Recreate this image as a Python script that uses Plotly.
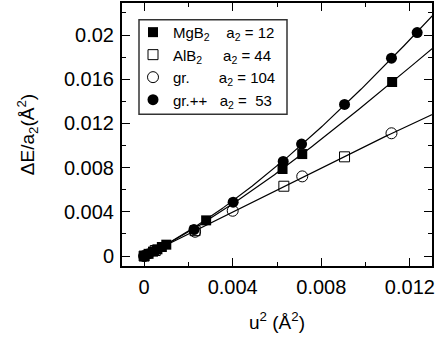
import numpy as np
import plotly.graph_objects as go

# values (u^2 in A^2, dE/a2 in A^2)
mgb2_u2 = [0.0, 0.0002, 0.0004, 0.0006, 0.0008, 0.001, 0.0028, 0.00625, 0.00714, 0.0112]
mgb2_de = [0.0, 0.0002, 0.0004, 0.00061, 0.00082, 0.00103, 0.00323, 0.00788, 0.00923, 0.01575]

alb2_u2 = [0.0, 0.0005, 0.0023, 0.00631, 0.00905]
alb2_de = [0.0, 0.0005, 0.0023, 0.00632, 0.00898]

gr_u2 = [0.0, 0.0023, 0.004, 0.00714, 0.01117]
gr_de = [0.0, 0.0022, 0.0041, 0.00721, 0.01111]

grpp_u2 = [0.0, 0.0002, 0.0005, 0.00225, 0.00402, 0.00628, 0.00711, 0.00905, 0.01117, 0.01233]
grpp_de = [0.0, 0.0002, 0.0005, 0.0024, 0.00488, 0.00856, 0.01013, 0.01372, 0.01791, 0.02022]

names = ["MgB<sub>2</sub>", "AlB<sub>2</sub>", "gr.", "gr.++"]
a2_labels = ["a<sub>2</sub> = 12", "a<sub>2</sub> = 44", "a<sub>2</sub> = 104", "a<sub>2</sub> =\u00a0\u00a053"]
pad = [4, 5, 7, 3]  # spaces between name and a2 text

xticks = [0, 0.004, 0.008, 0.012]
xticktext = ["0", "0.004", "0.008", "0.012"]
yticks = [0, 0.004, 0.008, 0.012, 0.016, 0.02]
yticktext = ["0", "0.004", "0.008", "0.012", "0.016", "0.02"]

FONT = "Liberation Sans, Arial, sans-serif"


def fit_curve(u2, de):
    # dE/a2 = u^2 + b u^4 + c u^6  -> fit b, c
    x = np.array(u2); y = np.array(de)
    A = np.c_[x**2, x**3]
    coef = np.linalg.lstsq(A, y - x, rcond=None)[0]
    xs = np.linspace(0, 0.0135, 200)
    return xs, xs + coef[0]*xs**2 + coef[1]*xs**3


series = [
    (mgb2_u2, mgb2_de, dict(symbol="square", size=10, color="black")),
    (alb2_u2, alb2_de, dict(symbol="square-open", size=10, color="black", line=dict(width=1))),
    (gr_u2, gr_de, dict(symbol="circle-open", size=11, color="black", line=dict(width=1))),
    (grpp_u2, grpp_de, dict(symbol="circle", size=11, color="black")),
]

fig = go.Figure()
# AlB2 and gr. share one fitted line in the original
fits = [(mgb2_u2, mgb2_de), (alb2_u2 + gr_u2, alb2_de + gr_de), (grpp_u2, grpp_de)]
for u2, de in fits:
    xs, ys = fit_curve(u2, de)
    fig.add_trace(go.Scatter(x=xs, y=ys, mode="lines", line=dict(color="black", width=1.2),
                             showlegend=False, hoverinfo="skip"))

for (u2, de, mk), nm, lab, p in zip(series, names, a2_labels, pad):
    fig.add_trace(go.Scatter(x=u2, y=de, mode="markers", marker=mk,
                             name=nm + "\u00a0" * p + lab))

axis_common = dict(showline=True, linewidth=2, linecolor="black", mirror="allticks",
                   ticks="inside", ticklen=8, tickwidth=1, tickcolor="black",
                   showgrid=False, zeroline=False,
                   tickfont=dict(family=FONT, size=20, color="black"),
                   minor=dict(ticks="inside", ticklen=4, tickwidth=1, tickcolor="black", dtick=0.002))

fig.update_xaxes(range=[-0.001, 0.013], tickvals=xticks, ticktext=xticktext,
                 ticklabelstandoff=2,
                 title=dict(text="u<sup>2</sup> (Å<sup>2</sup>)", standoff=19,
                            font=dict(family=FONT, size=19, color="black")),
                 **axis_common)
fig.update_yaxes(range=[-0.0009, 0.0229], tickvals=yticks, ticktext=yticktext,
                 ticklabelstandoff=2,
                 title=dict(text="ΔE/a<sub>2</sub>(Å<sup>2</sup>)", standoff=24,
                            font=dict(family=FONT, size=19, color="black")),
                 **axis_common)

# legend frame
fig.add_shape(type="rect", xref="paper", yref="paper",
              x0=(139 - 122) / 310, x1=(287 - 122) / 310,
              y0=(266 - 113) / 265, y1=(266 - 18) / 265,
              line=dict(color="#333", width=1.5), fillcolor="white", layer="below")

fig.update_layout(
    width=436, height=339,
    margin=dict(l=122, r=4, t=1, b=73),
    plot_bgcolor="white", paper_bgcolor="white",
    font=dict(family=FONT, color="black"),
    legend=dict(x=(133 - 122) / 310, y=(266 - 14) / 265, xanchor="left", yanchor="top",
                bgcolor="rgba(0,0,0,0)", borderwidth=0,
                font=dict(family=FONT, size=15, color="black")),
)

fig.write_html("out.html", config={"displayModeBar": False},
               post_script="document.body.style.margin='0';")
